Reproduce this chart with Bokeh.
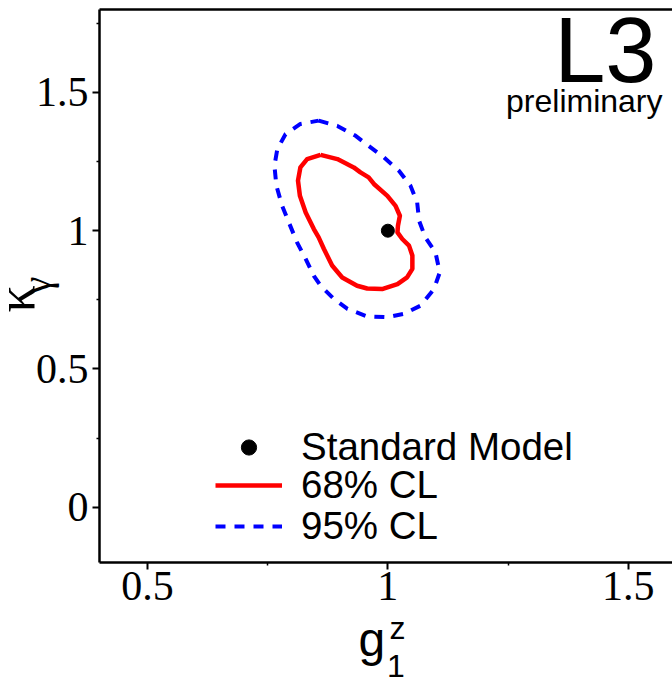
import math

from bokeh.plotting import figure
from bokeh.models import Range1d, FixedTicker, LinearAxis, Legend, LegendItem, Label
from bokeh.embed import file_html
from bokeh.resources import INLINE

# 68% CL contour in the (g1z, kappa_gamma) plane
cl68_g1z = [0.860, 0.895, 0.929, 0.943, 0.960, 0.971, 0.999, 1.016, 1.025, 1.021,
            1.020, 1.030, 1.044, 1.051, 1.051, 1.040, 1.020, 0.988, 0.957, 0.936,
            0.905, 0.884, 0.867, 0.856, 0.846, 0.829, 0.817, 0.813, 0.818, 0.832]
cl68_kg = [1.274, 1.259, 1.229, 1.211, 1.193, 1.169, 1.126, 1.090, 1.054, 1.018,
           0.994, 0.970, 0.946, 0.910, 0.862, 0.831, 0.807, 0.789, 0.791, 0.801,
           0.831, 0.874, 0.934, 0.976, 1.006, 1.066, 1.126, 1.181, 1.229, 1.259]

# 95% CL contour
cl95_g1z = [0.856, 0.895, 0.933, 0.960, 0.992, 1.023, 1.047, 1.061, 1.065, 1.078,
            1.099, 1.108, 1.096, 1.068, 1.033, 0.999, 0.957, 0.916, 0.888, 0.860,
            0.846, 0.829, 0.811, 0.794, 0.780, 0.768, 0.764, 0.770, 0.787, 0.818]
cl95_kg = [1.398, 1.379, 1.343, 1.307, 1.265, 1.217, 1.163, 1.102, 1.036, 0.976,
           0.922, 0.849, 0.789, 0.729, 0.699, 0.687, 0.690, 0.717, 0.753, 0.801,
           0.837, 0.898, 0.958, 1.030, 1.090, 1.163, 1.235, 1.295, 1.349, 1.386]

# Standard Model expectation
sm_g1z = [1.0]
sm_kg = [1.0]

x_major = [0.5, 1.0, 1.5]
x_minor = [0.75, 1.25]
x_tick_labels = ["0.5", "1", "1.5"]
y_major = [0.0, 0.5, 1.0, 1.5]
y_minor = [0.25, 0.75, 1.25, 1.75]
y_tick_labels = ["0", "0.5", "1", "1.5"]

legend_labels = ["Standard Model", "68% CL", "95% CL"]

SANS = "Liberation Sans"
SERIF = "Liberation Serif"

# canvas geometry (pixels) and the axis box drawn inside it
W, H = 672, 677
BOX_L, BOX_R, BOX_T, BOX_B = 99, 672, 9, 562
X_LO, Y_LO, Y_HI = 0.4, -0.2, 1.8
PX_X = 480.6   # pixels per unit of g1z
PX_Y = (BOX_B - BOX_T) / (Y_HI - Y_LO)

x_start = X_LO - BOX_L / PX_X
x_end = X_LO + (BOX_R - BOX_L) / PX_X
y_start = Y_LO - (H - BOX_B) / PX_Y
y_end = Y_HI + BOX_T / PX_Y

# the plotting frame fills the whole canvas; axes are pinned to the box edges
p = figure(width=W, height=H, output_backend="svg", toolbar_location=None,
           x_range=Range1d(x_start, x_end), y_range=Range1d(y_start, y_end),
           min_border=0)
p.grid.visible = False
p.outline_line_color = None
p.background_fill_color = "white"
p.border_fill_color = "white"


def style_axis(ax, ticks, minor, labels, loc, bounds):
    ax.fixed_location = loc
    ax.bounds = bounds
    ax.ticker = FixedTicker(ticks=ticks, minor_ticks=minor)
    ax.major_label_overrides = dict(zip(ticks, labels))
    ax.axis_line_width = 2.5
    ax.axis_line_color = "black"
    ax.major_tick_in = 0
    ax.major_tick_out = 7
    ax.major_tick_line_width = 2
    ax.minor_tick_in = 0
    ax.minor_tick_out = 3
    ax.minor_tick_line_width = 1.5
    ax.major_label_text_font = SERIF
    ax.major_label_text_font_size = "42px"
    ax.major_label_text_color = "black"
    ax.major_label_standoff = 4


style_axis(p.xaxis[0], x_major, x_minor, x_tick_labels, Y_LO, (X_LO, x_end))
style_axis(p.yaxis[0], y_major, y_minor, y_tick_labels, X_LO, (Y_LO, Y_HI))
p.xaxis[0].major_label_standoff = 2

# plain frame line along the top
top = LinearAxis(ticker=FixedTicker(ticks=[]), axis_line_width=2.5,
                 fixed_location=Y_HI, bounds=(X_LO, x_end),
                 major_tick_out=0, major_tick_in=0, minor_tick_out=0, minor_tick_in=0,
                 major_label_text_font_size="0px", major_label_standoff=0)
p.add_layout(top, "above")

r95 = p.line(cl95_g1z + cl95_g1z[:1], cl95_kg + cl95_kg[:1], line_color="#0000ff",
             line_width=4, line_dash="10 9", line_join="round")
r68 = p.line(cl68_g1z + cl68_g1z[:1], cl68_kg + cl68_kg[:1], line_color="#ff0000",
             line_width=4.5, line_join="round")
rsm = p.scatter(sm_g1z, sm_kg, size=13, color="black")

# one legend entry per row, stacked about 38 px apart
ROW_CENTERS = [443.5, 481.5, 523.0]
for text, rend, cy in zip(legend_labels, [rsm, r68, r95], ROW_CENTERS):
    p.add_layout(Legend(items=[LegendItem(label=text, renderers=[rend])],
                        location=(215, H - cy - 25), glyph_width=67, glyph_height=38,
                        label_height=38, label_standoff=19, spacing=0, padding=0,
                        margin=0, border_line_color=None, background_fill_alpha=0,
                        label_text_font=SANS, label_text_font_size="38.5px",
                        label_text_color="black"))


def label(x, y, text, size, font=SANS, **kw):
    # x, y are pixels from the canvas' left and bottom edges
    p.add_layout(Label(x=x, y=y, x_units="screen", y_units="screen", text=text,
                       text_font=font, text_font_size=size, text_color="black",
                       text_baseline="alphabetic", **kw))


# experiment tag
label(656, 628, "L3", "92px", text_align="right")
label(662, 577, "preliminary", "32px", text_align="right")

# x axis title: g_1^z
label(358, 38, "g", "48px")
label(389, 50, "z", "32px")
label(386.5, 12, "1", "32px")

# y axis title: kappa_gamma
label(15, H - 298.5, "κ", "54px", font=SERIF, angle=math.pi / 2, text_align="center")
label(36, H - 285, "γ", "40px", font=SERIF, angle=math.pi / 2, text_align="center")

open("out.html", "w").write(file_html(p, INLINE))
